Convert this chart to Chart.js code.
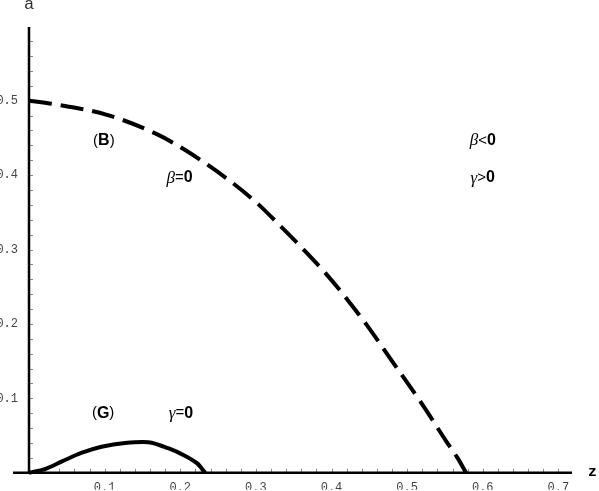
<!DOCTYPE html>
<html>
<head>
<meta charset="utf-8">
<style>
  html, body { margin: 0; padding: 0; background: #fff; overflow: hidden; }
  #wrap { position: relative; width: 599px; height: 491px; }
</style>
<script src="https://cdn.jsdelivr.net/npm/chart.js@4/dist/chart.umd.min.js"></script>
</head>
<body>
<div id="wrap"><canvas id="chart" width="599" height="491"></canvas></div>
<script>
/* =========================
   DATA
========================= */

// dashed boundary beta = 0
const zBeta = [0, 0.041, 0.103, 0.169, 0.206, 0.266, 0.303, 0.332, 0.363, 0.394, 0.42, 0.447, 0.478, 0.522, 0.552, 0.566, 0.578];
const aBeta = [0.5, 0.494, 0.481, 0.455, 0.434, 0.392, 0.361, 0.332, 0.3, 0.266, 0.234, 0.198, 0.153, 0.089, 0.042, 0.021, 0];

// solid boundary gamma = 0
const zGamma = [0, 0.021, 0.043, 0.07, 0.096, 0.127, 0.158, 0.184, 0.206, 0.222, 0.233];
const aGamma = [0, 0.005, 0.015, 0.027, 0.035, 0.04, 0.041, 0.033, 0.023, 0.013, 0];

const zTicks = [0.1, 0.2, 0.3, 0.4, 0.5, 0.6, 0.7];
const aTicks = [0.1, 0.2, 0.3, 0.4, 0.5];

const zMax = 0.718;
const aMax = 0.599;

// region labels, anchored in data coords (z, a)
const notes = [
  { z: 0.099, a: 0.446, parts: [["(", "n"], ["B", "b"], [")", "n"]] },
  { z: 0.199, a: 0.396, parts: [["\u03b2", "g"], ["=", "n"], ["0", "b"]] },
  { z: 0.600, a: 0.446, parts: [["\u03b2", "g"], ["<", "n"], ["0", "b"]] },
  { z: 0.600, a: 0.396, parts: [["\u03b3", "g"], [">", "n"], ["0", "b"]] },
  { z: 0.098, a: 0.080, parts: [["(", "n"], ["G", "b"], [")", "n"]] },
  { z: 0.201, a: 0.080, parts: [["\u03b3", "g"], ["=", "n"], ["0", "b"]] }
];

const toPoints = (xs, ys) => xs.map((x, i) => ({ x, y: ys[i] }));


/* =========================
   PLUGIN: axes + labels
========================= */

const FONTS = {
  n: "15px 'Liberation Sans'",
  b: "bold 16px 'Liberation Sans'",
  g: "italic 17px 'Liberation Serif'"
};

const frame = {
  id: "frame",
  beforeDatasetsDraw(chart) {
    const { ctx, chartArea, scales } = chart;
    const xs = scales.x, ys = scales.y;
    const x0 = xs.getPixelForValue(0);
    const y0 = ys.getPixelForValue(0);

    ctx.save();
    // minor + major ticks (inside)
    ctx.strokeStyle = "#888";
    ctx.lineWidth = 1;
    ctx.beginPath();
    for (let v = 0.02; v < zMax; v += 0.02) {
      const px = Math.round(xs.getPixelForValue(v)) + 0.5;
      ctx.moveTo(px, y0);
      ctx.lineTo(px, y0 - 4);
    }
    for (let v = 0.02; v < aMax; v += 0.02) {
      const py = Math.round(ys.getPixelForValue(v)) + 0.5;
      ctx.moveTo(x0, py);
      ctx.lineTo(x0 + 4, py);
    }
    ctx.stroke();

    // axis lines
    ctx.strokeStyle = "#000";
    ctx.lineWidth = 2.5;
    ctx.beginPath();
    ctx.moveTo(x0 - 16, y0);
    ctx.lineTo(chartArea.right, y0);
    ctx.moveTo(x0, chartArea.top);
    ctx.lineTo(x0, y0);
    ctx.stroke();

    // axis names
    ctx.fillStyle = "#333";
    ctx.font = "17px 'Liberation Mono'";
    ctx.textAlign = "center";
    ctx.textBaseline = "alphabetic";
    ctx.fillText("a", x0, chartArea.top - 18);
    ctx.fillStyle = "#000";
    ctx.font = "bold 15px 'Liberation Mono'";
    ctx.textAlign = "left";
    ctx.fillText("z", chartArea.right + 16, y0 + 3);
    ctx.restore();
  },
  afterDatasetsDraw(chart) {
    const { ctx, scales } = chart;
    ctx.save();
    ctx.fillStyle = "#000";
    ctx.textBaseline = "middle";
    ctx.textAlign = "left";
    notes.forEach(n => {
      const widths = n.parts.map(([t, f]) => { ctx.font = FONTS[f]; return ctx.measureText(t).width; });
      const total = widths.reduce((s, w) => s + w, 0);
      let px = scales.x.getPixelForValue(n.z) - total / 2;
      const py = scales.y.getPixelForValue(n.a);
      n.parts.forEach(([t, f], i) => {
        ctx.font = FONTS[f];
        ctx.fillText(t, px, py);
        px += widths[i];
      });
    });
    ctx.restore();
  }
};


/* =========================
   CHART
========================= */

new Chart(document.getElementById("chart"), {
  type: "scatter",
  data: {
    datasets: [
      {
        label: "beta=0",
        data: toPoints(zBeta, aBeta),
        showLine: true,
        borderColor: "#000",
        borderWidth: 4,
        borderDash: [23, 9],
        borderCapStyle: "butt",
        cubicInterpolationMode: "monotone",
        pointRadius: 0,
        clip: false
      },
      {
        label: "gamma=0",
        data: toPoints(zGamma, aGamma),
        showLine: true,
        borderColor: "#000",
        borderWidth: 4,
        tension: 0.3,
        pointRadius: 0,
        clip: false
      }
    ]
  },
  options: {
    responsive: false,
    animation: false,
    layout: { padding: { top: 27, right: 27, left: 0, bottom: 0 } },
    plugins: { legend: { display: false }, tooltip: { enabled: false } },
    scales: {
      x: {
        type: "linear",
        min: 0,
        max: zMax,
        grid: { display: false, drawTicks: false },
        border: { display: false },
        afterBuildTicks: s => { s.ticks = zTicks.map(v => ({ value: v })); },
        afterFit: s => { s.height = 17; },
        ticks: {
          autoSkip: false,
          maxRotation: 0,
          padding: 8,
          color: "#444",
          font: { family: "'Liberation Mono'", size: 12 },
          callback: v => v.toFixed(1)
        }
      },
      y: {
        type: "linear",
        min: 0,
        max: aMax,
        grid: { display: false, drawTicks: false },
        border: { display: false },
        afterBuildTicks: s => { s.ticks = aTicks.map(v => ({ value: v })); },
        afterFit: s => { s.width = 29; },
        ticks: {
          autoSkip: false,
          padding: 11,
          color: "#444",
          font: { family: "'Liberation Mono'", size: 12 },
          callback: v => v.toFixed(1)
        }
      }
    }
  },
  plugins: [frame]
});
</script>
</body>
</html>
